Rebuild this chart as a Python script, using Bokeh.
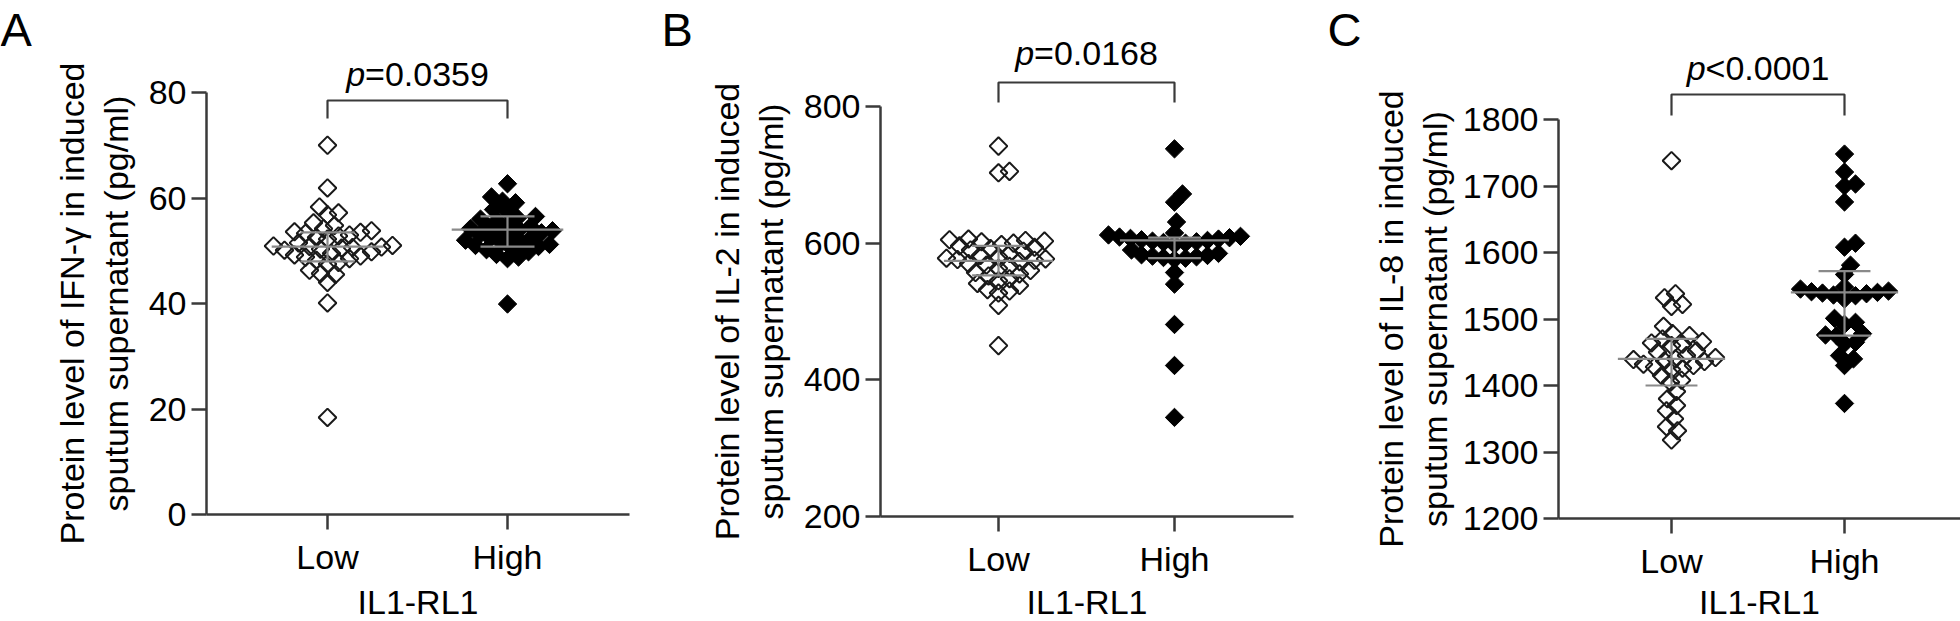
import numpy as np
from bokeh.plotting import figure
from bokeh.layouts import row
from bokeh.models import FixedTicker, Label, Range1d
from bokeh.embed import file_html
from bokeh.resources import INLINE

# ---------------- data ----------------
categories = ["Low", "High"]

ifn_low = [70.0, 61.9, 58.3, 57.2, 56.8, 55.3, 54.8, 54.2, 53.8, 53.6, 53.5, 53.3, 53.0,
           52.8, 52.5, 52.2, 51.5, 51.0, 50.9, 50.8, 50.7, 50.6, 50.5, 50.3, 50.1, 49.8,
           49.5, 49.2, 49.0, 48.8, 48.5, 48.2, 47.8, 47.5, 46.3, 45.7, 45.5, 44.0, 40.1, 18.4]
ifn_high = [62.7, 60.2, 59.4, 59.1, 57.8, 57.5, 56.5, 56.2, 56.0, 55.8, 55.0, 54.6, 54.4,
            54.2, 54.0, 53.8, 53.6, 53.4, 53.0, 52.8, 52.5, 52.3, 52.0, 51.8, 51.5, 51.2,
            51.0, 50.8, 50.5, 50.2, 49.8, 49.3, 48.8, 48.5, 39.9]

il2_low = [742, 705, 703, 606, 605, 604, 603, 602, 600, 598, 596, 594, 592, 590, 588, 585,
           582, 580, 578, 577, 576, 575, 573, 570, 568, 566, 563, 560, 557, 555, 552, 548,
           545, 541, 538, 532, 530, 527, 509, 450]
il2_high = [738, 672, 660, 631, 615, 612, 610, 609, 608, 607, 606, 605, 604, 603, 602, 601,
            600, 598, 590, 585, 583, 582, 581, 580, 579, 578, 576, 557, 540, 481, 421, 345]

il8_low = [1738, 1538, 1532, 1522, 1519, 1489, 1478, 1475, 1470, 1466, 1464, 1462, 1460,
           1452, 1450, 1445, 1442, 1440, 1439, 1437, 1436, 1432, 1430, 1428, 1426, 1424,
           1415, 1408, 1405, 1391, 1380, 1370, 1362, 1350, 1338, 1332, 1318]
il8_high = [1748, 1721, 1703, 1700, 1676, 1614, 1608, 1581, 1567, 1548, 1545, 1542, 1541,
            1540, 1539, 1538, 1536, 1535, 1530, 1501, 1495, 1492, 1478, 1476, 1475, 1465,
            1463, 1445, 1440, 1430, 1373]

# median / interquartile lines [Low, High]
ifn_median = [50.8, 54.0]
ifn_q1 = [48.0, 50.8]
ifn_q3 = [53.5, 56.5]
il2_median = [574, 604]
il2_q1 = [553, 578]
il2_q3 = [596, 608]
il8_median = [1440, 1540]
il8_q1 = [1400, 1475]
il8_q3 = [1470, 1572]

ifn_ticks = [0, 20, 40, 60, 80]
il2_ticks = [200, 400, 600, 800]
il8_ticks = [1200, 1300, 1400, 1500, 1600, 1700, 1800]

panel_letters = ["A", "B", "C"]
p_signs = ["=0.0359", "=0.0168", "<0.0001"]
title_line1 = ["Protein level of IFN-\u03b3 in induced",
               "Protein level of IL-2 in induced",
               "Protein level of IL-8 in induced"]
title_line2 = "sputum supernatant (pg/ml)"
x_title = "IL1-RL1"

# ---------------- layout (canvas pixels) ----------------
FONT = "Liberation Sans"
FSZ = 34
FS = f"{FSZ}px"
AXIS_COLOR = "#3a3a3a"
FIG_H = 621

layouts = [
    dict(fig_x0=0, fig_w=660, ax_l=206, ax_r=629, x_lo=327, x_hi=507, y_top=92, y_bot=514,
         t1=71, br=100, leg=118, ptxt=73, letter_x=0),
    dict(fig_x0=660, fig_w=660, ax_l=880, ax_r=1293, x_lo=998, x_hi=1174, y_top=106, y_bot=516,
         t1=726, br=82, leg=102, ptxt=52, letter_x=661),
    dict(fig_x0=1320, fig_w=640, ax_l=1558, ax_r=1960, x_lo=1671, x_hi=1844, y_top=119, y_bot=518,
         t1=1390, br=94, leg=115, ptxt=67, letter_x=1327),
]
LINE_GAP = 44
LETTER_Y = 29
LETTER_FS = "47px"
XTITLE_Y = 601


def swarm(vals, ppy, D=11.0, step=1.0):
    vals = np.asarray(vals, dtype=float)
    order = np.argsort(vals)
    placed = []
    offs = np.zeros(len(vals))
    for i in order:
        y = vals[i] * ppy
        k = 0
        found = None
        while found is None:
            for c in ((0.0,) if k == 0 else (k * step, -k * step)):
                ok = True
                for (px, py) in placed:
                    if (c - px) ** 2 + (y - py) ** 2 < D * D:
                        ok = False
                        break
                if ok:
                    found = c
                    break
            k += 1
        placed.append((found, y))
        offs[i] = found
    return offs


def make_panel(idx, low, high, ticks, med, q1, q3):
    L = layouts[idx]
    ppx = float(L["x_hi"] - L["x_lo"])
    ppy = (L["y_bot"] - L["y_top"]) / (ticks[-1] - ticks[0])

    def dx(px):
        return 1 + (px - L["x_lo"]) / ppx

    def dy(py):
        return ticks[0] + (L["y_bot"] - py) / ppy

    p = figure(width=L["fig_w"], height=FIG_H,
               x_range=Range1d(dx(L["fig_x0"]), dx(L["fig_x0"] + L["fig_w"])),
               y_range=Range1d(dy(FIG_H), dy(0)),
               output_backend="svg", toolbar_location=None, min_border=0)
    p.min_border_left = 0
    p.min_border_right = 0
    p.min_border_top = 0
    p.min_border_bottom = 0
    p.outline_line_color = None
    p.grid.visible = False
    p.background_fill_color = "white"
    p.border_fill_color = "white"

    # axes (library axes, pinned at the data origin)
    for ax in (p.xaxis, p.yaxis):
        ax.axis_line_width = 2.5
        ax.axis_line_color = AXIS_COLOR
        ax.major_tick_line_width = 2.5
        ax.major_tick_line_color = AXIS_COLOR
        ax.major_tick_out = 15
        ax.major_tick_in = 0
        ax.minor_tick_line_color = None
        ax.major_label_text_font = FONT
        ax.major_label_text_font_size = FS
        ax.major_label_text_color = "black"
    p.yaxis.ticker = FixedTicker(ticks=ticks)
    p.yaxis.bounds = (ticks[0], ticks[-1])
    p.yaxis.fixed_location = dx(L["ax_l"])
    p.yaxis.major_label_standoff = 5
    p.xaxis.ticker = FixedTicker(ticks=[1, 2])
    p.xaxis.major_label_overrides = {1: categories[0], 2: categories[1]}
    p.xaxis.fixed_location = ticks[0]
    p.xaxis.bounds = (dx(L["ax_l"]), dx(L["ax_r"]))
    p.xaxis.major_label_standoff = 8

    # points
    off_lo = swarm(low, ppy) / ppx
    off_hi = swarm(high, ppy) / ppx
    p.scatter(x=1 + off_lo, y=low, marker="square", size=12.5, angle=np.pi / 4,
              fill_color=None, line_color="#1a1a1a", line_width=2)
    p.scatter(x=2 + off_hi, y=high, marker="square", size=13, angle=np.pi / 4,
              fill_color="black", line_color="black", line_width=1)

    # median + IQR lines
    cx = np.array([1.0, 2.0])
    wm, wc = 0.31, 0.15
    gray = "#8a8a8a"
    p.segment(x0=cx - wm, x1=cx + wm, y0=med, y1=med, line_color=gray, line_width=2.2)
    p.segment(x0=cx - wc, x1=cx + wc, y0=q1, y1=q1, line_color=gray, line_width=2.2)
    p.segment(x0=cx - wc, x1=cx + wc, y0=q3, y1=q3, line_color=gray, line_width=2.2)
    p.segment(x0=cx, x1=cx, y0=q1, y1=q3, line_color=gray, line_width=2.2)

    # bracket + p value
    yb, yl = dy(L["br"]), dy(L["leg"])
    p.line(x=[1, 1, 2, 2], y=[yl, yb, yb, yl], line_color=AXIS_COLOR, line_width=2.2)
    cxp = (L["x_lo"] + L["x_hi"]) / 2
    w_p, w_rest = 0.556 * FSZ, 3.642 * FSZ
    split = cxp - (w_p + w_rest) / 2 + w_p
    p.add_layout(Label(x=dx(split), y=dy(L["ptxt"]), text="p", text_font=FONT, text_font_size=FS,
                       text_font_style="italic", text_align="right", text_baseline="middle",
                       text_color="black"))
    p.add_layout(Label(x=dx(split), y=dy(L["ptxt"]), text=p_signs[idx], text_font=FONT,
                       text_font_size=FS, text_align="left", text_baseline="middle",
                       text_color="black"))

    # y title (two lines)
    ymid = dy((L["y_top"] + L["y_bot"]) / 2)
    p.add_layout(Label(x=dx(L["t1"]), y=ymid, text=title_line1[idx], angle=np.pi / 2,
                       text_font=FONT, text_font_size=FS, text_align="center",
                       text_baseline="middle", text_color="black"))
    p.add_layout(Label(x=dx(L["t1"] + LINE_GAP), y=ymid, text=title_line2, angle=np.pi / 2,
                       text_font=FONT, text_font_size=FS, text_align="center",
                       text_baseline="middle", text_color="black"))

    # x title
    p.add_layout(Label(x=dx((L["ax_l"] + L["ax_r"]) / 2), y=dy(XTITLE_Y), text=x_title,
                       text_font=FONT, text_font_size=FS, text_align="center",
                       text_baseline="middle", text_color="black"))
    # panel letter
    p.add_layout(Label(x=dx(L["letter_x"]), y=dy(LETTER_Y), text=panel_letters[idx],
                       text_font=FONT, text_font_size=LETTER_FS, text_align="left",
                       text_baseline="middle", text_color="black"))
    return p


pA = make_panel(0, ifn_low, ifn_high, ifn_ticks, ifn_median, ifn_q1, ifn_q3)
pB = make_panel(1, il2_low, il2_high, il2_ticks, il2_median, il2_q1, il2_q3)
pC = make_panel(2, il8_low, il8_high, il8_ticks, il8_median, il8_q1, il8_q3)

layout = row(pA, pB, pC, spacing=0)
open("out.html", "w").write(file_html(layout, INLINE))
